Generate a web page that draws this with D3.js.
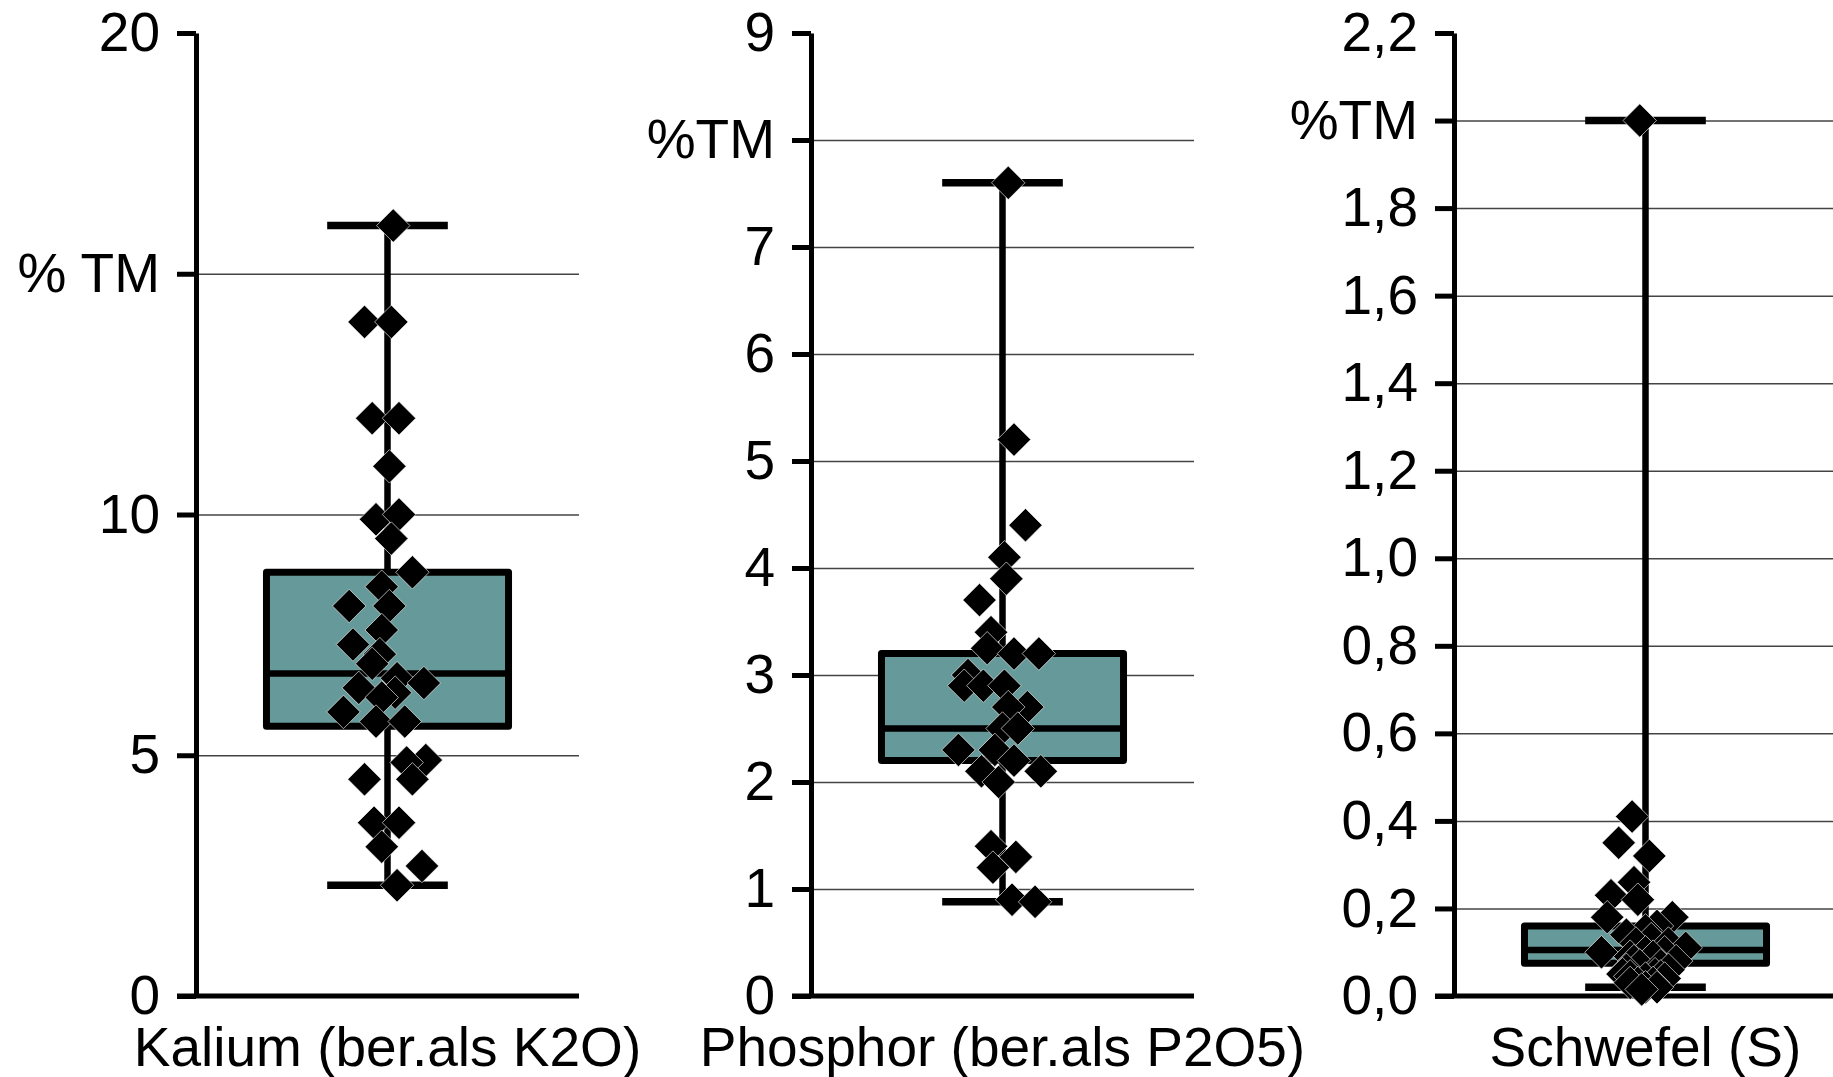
<!DOCTYPE html>
<html>
<head>
<meta charset="utf-8">
<script src="https://cdn.jsdelivr.net/npm/d3@7"></script>
<style>
  body { margin: 0; background: #fff; }
  svg { display: block; }
  text { font-family: "Liberation Sans", Arial, sans-serif; fill: #000; }
</style>
</head>
<body>
<div id="chart"></div>
<script>
// Data
// =================================
var categories = ["Kalium (ber.als K2O)", "Phosphor (ber.als P2O5)", "Schwefel (S)"];

// box stats: [lower whisker, Q1, median, Q3, upper whisker]
var kaliumBox = [2.3, 5.6, 6.7, 8.8, 16.0];
var phosphorBox = [0.88, 2.2, 2.5, 3.2, 7.6];
var schwefelBox = [0.02, 0.075, 0.105, 0.16, 2.0];

// single samples and their sideways jitter (-1..1 of the panel)
var kaliumValues = [16.0, 14.0, 14.0, 12.0, 12.0, 11.0, 9.9, 10.0, 9.5, 8.8, 8.5, 8.1, 8.1, 7.6, 7.3, 7.1,
  6.9, 6.6, 6.5, 6.4, 6.3, 6.2, 5.9, 5.7, 5.7, 4.9, 4.85, 4.5, 4.5, 3.6, 3.6, 3.1, 2.7, 2.3];
var kaliumJitter = [0.03, -0.12, 0.02, -0.08, 0.06, 0.01, -0.06, 0.06, 0.02, 0.13, -0.03, -0.20, 0.01, -0.03, -0.18, -0.04,
  -0.08, 0.05, 0.19, -0.15, 0.04, -0.03, -0.23, -0.06, 0.09, 0.20, 0.10, -0.12, 0.13, -0.07, 0.06, -0.03, 0.18, 0.05];

var phosphorValues = [7.6, 5.2, 4.4, 4.1, 3.9, 3.7, 3.4, 3.25, 3.2, 3.2, 3.0, 2.9, 2.9, 2.9, 2.7, 2.7,
  2.5, 2.5, 2.3, 2.3, 2.2, 2.1, 2.1, 2.0, 1.4, 1.3, 1.2, 0.9, 0.88];
var phosphorJitter = [0.03, 0.06, 0.12, 0.01, 0.02, -0.12, -0.06, -0.08, 0.06, 0.19, -0.18, -0.20, -0.10, 0.01, 0.13, 0.03,
  0.0, 0.08, -0.23, -0.04, 0.06, -0.11, 0.20, -0.02, -0.06, 0.07, -0.05, 0.05, 0.17];

var schwefelValues = [2.0, 0.41, 0.35, 0.32, 0.26, 0.23, 0.22, 0.18, 0.18, 0.16, 0.15, 0.14, 0.13, 0.12, 0.12,
  0.11, 0.10, 0.10, 0.10, 0.09, 0.09, 0.08, 0.08, 0.07, 0.07, 0.06, 0.06, 0.05, 0.05, 0.045, 0.045,
  0.04, 0.04, 0.03, 0.03, 0.03, 0.02, 0.02, 0.015];
var schwefelJitter = [-0.03, -0.07, -0.14, 0.02, -0.06, -0.18, -0.04, -0.20, 0.14, 0.06, 0.0, -0.10, 0.03, -0.05, 0.12,
  0.21, -0.23, 0.10, 0.0, -0.08, 0.04, 0.16, -0.06, -0.03, 0.08, -0.10, 0.12, 0.05, -0.12, -0.08, 0.08,
  0.0, 0.10, -0.04, 0.04, -0.08, 0.0, 0.06, -0.02];

// axis ticks and their labels
var kaliumTicks = [0, 5, 10, 15, 20];
var kaliumTickLabels = ["0", "5", "10", "% TM", "20"];
var phosphorTicks = [0, 1, 2, 3, 4, 5, 6, 7, 8, 9];
var phosphorTickLabels = ["0", "1", "2", "3", "4", "5", "6", "7", "%TM", "9"];
var schwefelTicks = [0, 0.2, 0.4, 0.6, 0.8, 1.0, 1.2, 1.4, 1.6, 1.8, 2.0, 2.2];
var schwefelTickLabels = ["0,0", "0,2", "0,4", "0,6", "0,8", "1,0", "1,2", "1,4", "1,6", "1,8", "%TM", "2,2"];

// Set up the chart
//= ================================
var svgWidth = 1833;
var svgHeight = 1077;
var plotTop = 33;
var plotBottom = 996;
var panelLeft = [196, 811, 1454];
var panelWidth = 383;
var boxHalf = 0.632;
var capHalf = 0.315;

var panels = [
  { box: kaliumBox, values: kaliumValues, jitter: kaliumJitter, ticks: kaliumTicks, labels: kaliumTickLabels },
  { box: phosphorBox, values: phosphorValues, jitter: phosphorJitter, ticks: phosphorTicks, labels: phosphorTickLabels },
  { box: schwefelBox, values: schwefelValues, jitter: schwefelJitter, ticks: schwefelTicks, labels: schwefelTickLabels }
];

var svg = d3.select("#chart")
  .append("svg")
    .attr("width", svgWidth)
    .attr("height", svgHeight);

var diamond = d3.symbol().type(d3.symbolSquare).size(560);

panels.forEach(function(p, i) {
  var g = svg.append("g").attr("transform", `translate(${panelLeft[i]},0)`);
  var top = p.ticks[p.ticks.length - 1];

  var y = d3.scaleLinear().domain([0, top]).range([plotBottom, plotTop]);
  var x = d3.scaleLinear().domain([-1, 1]).range([0, panelWidth]);

  // gridlines
  var grid = g.append("g")
    .call(d3.axisLeft(y)
      .tickValues(p.ticks.filter(t => t > 0 && t < top))
      .tickSize(-panelWidth)
      .tickFormat(""));
  grid.select(".domain").remove();
  grid.selectAll(".tick line").attr("stroke", "#444").attr("stroke-width", 1.5);

  // x axis base line
  var rightEnd = i == 2 ? panelWidth + 20 : panelWidth;
  g.append("line")
    .attr("x1", -19).attr("x2", rightEnd)
    .attr("y1", y(0)).attr("y2", y(0))
    .attr("stroke", "#000").attr("stroke-width", 5);

  // y axis
  var yAxis = g.append("g")
    .call(d3.axisLeft(y)
      .tickValues(p.ticks)
      .tickFormat((d, j) => p.labels[j])
      .tickSize(19)
      .tickSizeOuter(0)
      .tickPadding(17));
  yAxis.select(".domain").attr("stroke-width", 5);
  yAxis.selectAll(".tick line").attr("stroke-width", 5);
  yAxis.selectAll(".tick text")
    .style("font-size", "55px")
    .style("font-family", '"Liberation Sans", Arial, sans-serif');

  var b = p.box;

  // whiskers
  g.append("line")
    .attr("x1", x(0)).attr("x2", x(0))
    .attr("y1", y(b[0])).attr("y2", y(b[1]))
    .attr("stroke", "#000").attr("stroke-width", 6.5);
  g.append("line")
    .attr("x1", x(0)).attr("x2", x(0))
    .attr("y1", y(b[3])).attr("y2", y(b[4]))
    .attr("stroke", "#000").attr("stroke-width", 6.5);
  g.selectAll(".cap")
    .data([b[0], b[4]])
    .enter()
    .append("line")
      .attr("class", "cap")
      .attr("x1", x(-capHalf)).attr("x2", x(capHalf))
      .attr("y1", d => y(d)).attr("y2", d => y(d))
      .attr("stroke", "#000").attr("stroke-width", 7.5);

  // box
  g.append("rect")
    .attr("x", x(-boxHalf))
    .attr("y", y(b[3]))
    .attr("width", x(boxHalf) - x(-boxHalf))
    .attr("height", y(b[1]) - y(b[3]))
    .attr("fill", "#669999")
    .attr("stroke", "#000")
    .attr("stroke-width", 7)
    .attr("stroke-linejoin", "round");
  g.append("line")
    .attr("x1", x(-boxHalf)).attr("x2", x(boxHalf))
    .attr("y1", y(b[2])).attr("y2", y(b[2]))
    .attr("stroke", "#000").attr("stroke-width", 6.5);

  // single values
  g.selectAll(".pt")
    .data(p.values)
    .enter()
    .append("path")
      .attr("class", "pt")
      .attr("d", diamond)
      .attr("transform", (d, j) => `translate(${x(p.jitter[j])},${y(d)}) rotate(45)`)
      .attr("fill", "#000")
      .attr("stroke", "#fff")
      .attr("stroke-width", 0.6);

  // category label
  g.append("text")
    .attr("x", x(0))
    .attr("y", 1066)
    .attr("text-anchor", "middle")
    .style("font-size", "55px")
    .text(categories[i]);
});
</script>
</body>
</html>
